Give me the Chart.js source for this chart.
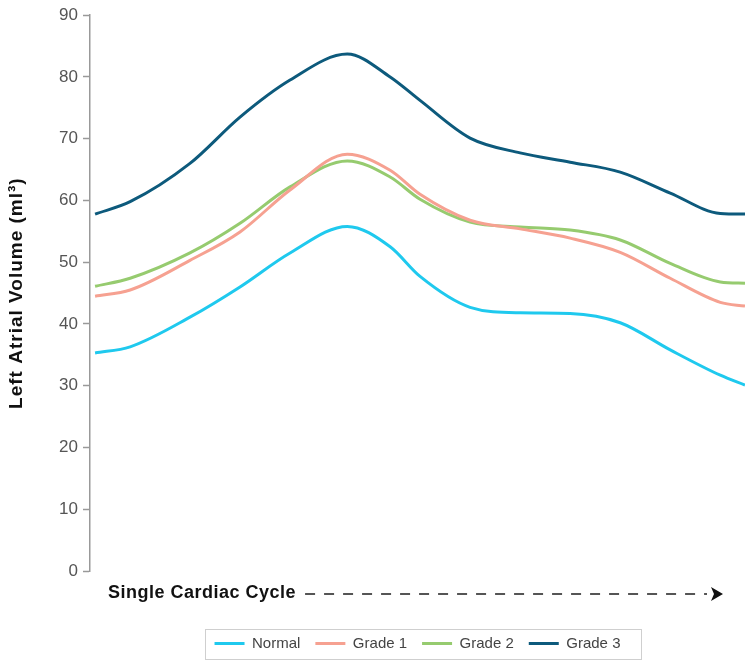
<!DOCTYPE html>
<html>
<head>
<meta charset="utf-8">
<script src="https://cdn.jsdelivr.net/npm/chart.js@4/dist/chart.umd.min.js"></script>
<style>
  html, body { margin: 0; padding: 0; background: #fff; }
  #wrap { width: 750px; height: 667px; }
</style>
</head>
<body>
<div id="wrap"><canvas id="c" width="750" height="667"></canvas></div>
<script>
// Fraction of a single cardiac cycle
const phase = [0, 0.054, 0.146, 0.223, 0.3, 0.388, 0.454, 0.5, 0.577, 0.654, 0.731, 0.808, 0.885, 0.962, 1.0];
const normal = [35.3, 36.3, 41.1, 46.0, 51.5, 55.8, 52.5, 47.7, 42.7, 41.8, 41.7, 40.2, 35.8, 31.7, 30.1];
const grade1 = [44.5, 45.5, 50.3, 54.9, 61.7, 67.5, 64.9, 61.0, 56.8, 55.4, 53.9, 51.6, 47.4, 43.5, 42.9];
const grade2 = [46.1, 47.4, 51.5, 56.3, 62.2, 66.4, 63.8, 60.2, 56.5, 55.7, 55.2, 53.6, 49.8, 46.8, 46.6];
const grade3 = [57.8, 59.8, 66.0, 73.5, 79.5, 83.7, 80.0, 76.2, 70.1, 67.7, 66.2, 64.6, 61.2, 57.9, 57.8];
const seriesNames = ['Normal', 'Grade 1', 'Grade 2', 'Grade 3'];
const yTicks = [0, 10, 20, 30, 40, 50, 60, 70, 80, 90];
const yTitle = 'Left Atrial Volume (ml\u00B3)';
const xCaption = 'Single Cardiac Cycle';

const colors = ['#1fc9ee', '#f6a191', '#96cb6f', '#0d5a7c'];
const toPts = arr => arr.map((v, i) => ({ x: phase[i], y: v }));
const allSeries = [normal, grade1, grade2, grade3];
const FONT = '"Liberation Sans", Arial, sans-serif';

const decor = {
  id: 'decor',
  afterDraw(chart) {
    const ctx = chart.ctx;
    const ca = chart.chartArea;
    ctx.save();
    // y-axis title
    ctx.save();
    ctx.translate(17, (ca.top + ca.bottom) / 2);
    ctx.rotate(-Math.PI / 2);
    ctx.font = 'bold 19px ' + FONT;
    ctx.letterSpacing = '1px';
    ctx.fillStyle = '#111';
    ctx.textAlign = 'center';
    ctx.textBaseline = 'middle';
    ctx.fillText(yTitle, 0, 0);
    ctx.restore();
    // x caption with dashed arrow
    const cy = ca.bottom + 22;
    ctx.font = 'bold 18px ' + FONT;
    ctx.letterSpacing = '0.5px';
    ctx.fillStyle = '#111';
    ctx.textBaseline = 'middle';
    ctx.textAlign = 'left';
    const tx = ca.left + 18;
    ctx.fillText(xCaption, tx, cy);
    const tw = ctx.measureText(xCaption).width;
    ctx.letterSpacing = '0px';
    ctx.strokeStyle = '#555';
    ctx.lineWidth = 2;
    ctx.setLineDash([10, 9]);
    ctx.beginPath();
    ctx.moveTo(tx + tw + 9, cy + 1);
    ctx.lineTo(ca.right - 38, cy + 1);
    ctx.stroke();
    ctx.setLineDash([]);
    ctx.fillStyle = '#111';
    ctx.beginPath();
    const ax = ca.right - 22;
    ctx.moveTo(ax - 12, cy - 6);
    ctx.lineTo(ax, cy + 1);
    ctx.lineTo(ax - 12, cy + 8);
    ctx.lineTo(ax - 9, cy + 1);
    ctx.closePath();
    ctx.fill();
    // legend border
    const hb = chart.legend.legendHitBoxes;
    if (hb && hb.length) {
      let l = Infinity, r = -Infinity, t = Infinity, b = -Infinity;
      hb.forEach(h => {
        l = Math.min(l, h.left); r = Math.max(r, h.left + h.width);
        t = Math.min(t, h.top); b = Math.max(b, h.top + h.height);
      });
      ctx.strokeStyle = '#cfcfcf';
      ctx.lineWidth = 1;
      const top = Math.round((t + b) / 2 - 15);
      ctx.strokeRect(Math.round(l - 10) + 0.5, top + 0.5, Math.round(r - l + 30), 30);
    }
    ctx.restore();
  }
};

new Chart(document.getElementById('c'), {
  type: 'line',
  data: {
    datasets: allSeries.map((arr, i) => ({
      label: seriesNames[i],
      data: toPts(arr),
      borderColor: colors[i],
      backgroundColor: colors[i],
      borderWidth: 3,
      pointRadius: 0,
      cubicInterpolationMode: 'monotone',
      fill: false
    }))
  },
  options: {
    responsive: false,
    animation: false,
    layout: { padding: { top: 10, right: 5, bottom: 6, left: 0 } },
    plugins: {
      tooltip: { enabled: false },
      legend: {
        position: 'bottom',
        fullSize: false,
        labels: {
          usePointStyle: true,
          pointStyle: 'line',
          pointStyleWidth: 30,
          boxHeight: 15,
          padding: 15,
          color: '#444',
          font: { family: FONT, size: 15 }
        }
      }
    },
    scales: {
      x: {
        type: 'linear',
        min: -0.0078,
        max: 1.0,
        display: true,
        ticks: { display: false },
        grid: { display: false },
        border: { display: false },
        afterFit(scale) { scale.height = 50; }
      },
      y: {
        min: 0,
        max: 90,
        afterBuildTicks(scale) { scale.ticks = yTicks.map(v => ({ value: v })); },
        ticks: {
          color: '#555',
          padding: 5,
          font: { family: FONT, size: 17 }
        },
        grid: { drawOnChartArea: false, color: '#999', tickLength: 7, tickWidth: 1.5 },
        border: { display: true, color: '#999', width: 1.5 },
        title: { display: false },
        afterFit(scale) { scale.width = 90; }
      }
    }
  },
  plugins: [decor]
});
</script>
</body>
</html>
